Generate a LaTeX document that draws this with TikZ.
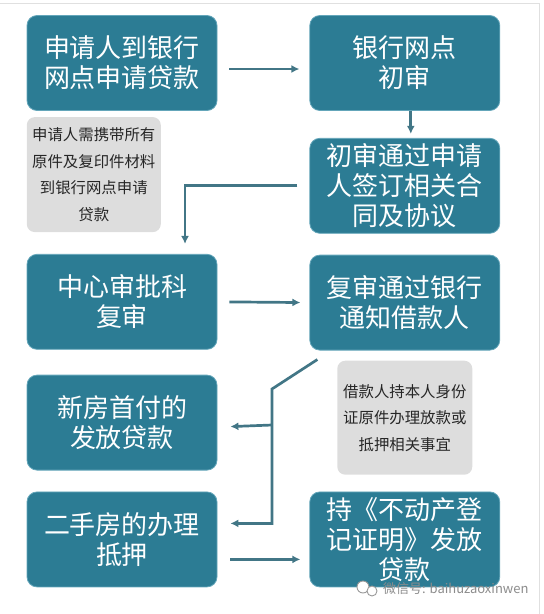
\documentclass[tikz,border=0pt]{standalone}
\usepackage{fontspec}
\setmainfont{Noto Sans CJK SC}
\usepackage{xcolor}
\usetikzlibrary{positioning,arrows.meta}
\definecolor{boxteal}{RGB}{44,124,148}
\definecolor{boxedge}{RGB}{100,166,186}
\definecolor{flowline}{RGB}{66,118,134}
\definecolor{notegray}{RGB}{221,221,221}

\begin{document}
\begin{tikzpicture}
		[x=1pt,y=1pt,
		stepbox/.style={rectangle,rounded corners=10pt,draw=boxedge,fill=boxteal,line width=0.8pt,text=white,align=center,inner sep=0pt,minimum width=190pt,minimum height=95pt,font=\fontsize{26}{30}\selectfont},
		notebox/.style={rectangle,rounded corners=8pt,fill=notegray,text=black!85,align=center,inner sep=0pt,font=\fontsize{15.4}{26.5}\selectfont},
		flow/.style={draw=flowline,line width=2.7pt,-{Latex[length=8pt,width=8pt]}}]
		\useasboundingbox (0,0) rectangle (544,-614);
		\draw [black!12,line width=0.8pt] (0,-3) -- (539,-3) -- (539,-614);

		\node [stepbox] (s1) at (122,-63) {申请人到银行\\网点申请贷款};
		\node [stepbox] (s2) [right=92pt of s1] {银行网点\\初审};
		\node [stepbox] (s3) [below=27pt of s2] {初审通过申请\\人签订相关合\\同及协议};
		\node [stepbox] (s5) [below=21pt of s3] {复审通过银行\\通知借款人};
		\node [stepbox] (s4) [below=143pt of s1] {中心审批科\\复审};
		\node [stepbox] (s6) [below=25pt of s4] {新房首付的\\发放贷款};
		\node [stepbox] (s7) [below=21pt of s6] {二手房的办理\\抵押};
		\node [stepbox] (s8) [right=92pt of s7] {持《不动产登\\记证明》发放\\贷款};

		\node [notebox,minimum width=134pt,minimum height=115pt] (n1) [below=6pt of s1.south west,anchor=north west] {申请人需携带所有\\原件及复印件材料\\到银行网点申请\\贷款};
		\node [notebox,minimum width=135pt,minimum height=114pt] (n2) [below=10pt of s5] {借款人持本人身份\\证原件办理放款或\\抵押相关事宜};

		\draw [flow,shorten <=12pt,shorten >=10pt] ([yshift=-6pt]s1.east) -- ([yshift=-6pt]s2.west);
		\draw [flow,shorten >=4pt] ([xshift=6pt]s2.south) -- ([xshift=6pt]s3.north);
		\draw [flow,shorten >=10pt] ([xshift=-12pt]s3.west) -| ([xshift=63pt]s4.north);
		\draw [flow,shorten <=12pt,shorten >=9pt] (s4.east) -- (s5.west);

		\coordinate (split) at (272,-389);
		\draw [flow,shorten >=13pt] ([shift={(8pt,-9pt)}]s5.south west) -- (split) |- ([yshift=16pt]s7.east);
		\draw [flow,shorten >=13pt] (split |- 0,-425) -- ([yshift=-4.5pt]s6.east);
		\draw [flow,shorten <=13pt,shorten >=9pt] ([yshift=-20pt]s7.east) -- ([yshift=-20pt]s8.west);

		\node [text=black!45,font=\fontsize{13}{13}\selectfont,anchor=west,inner sep=0pt] (wm) at (383,-589) {微信号: baihuzaoxinwen};
		\draw [black!40,fill=white,line width=0.9pt] ([xshift=-20pt,yshift=2pt]wm.west) circle (6pt);
		\draw [black!40,fill=white,line width=0.9pt] ([xshift=-11pt,yshift=-2pt]wm.west) circle (5pt);

	\end{tikzpicture}
\end{document}
